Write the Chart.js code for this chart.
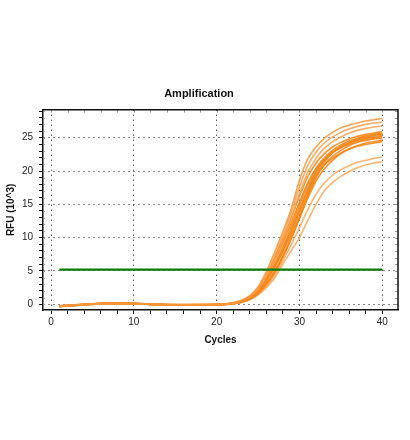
<!DOCTYPE html>
<html>
<head>
<meta charset="utf-8">
<script src="https://cdn.jsdelivr.net/npm/chart.js@4"></script>
<style>
  html, body { margin: 0; padding: 0; background: #fff; }
  #wrap { width: 410px; height: 440px; }
</style>
</head>
<body>
<div id="wrap"><canvas id="ampChart"></canvas></div>
<script>
const cycles = [1, 4, 7, 10, 13, 16, 19, 21, 22, 23, 24, 25, 26, 27, 28, 29, 30, 31, 32, 33, 34, 35, 36, 37, 38, 39, 40];

// RFU (10^3) per well
const wellA = [-0.30, -0.05, 0.15, 0.10, -0.05, -0.10, -0.05, 0.05, 0.25, 0.6, 1.3, 2.6, 4.9, 7.8, 10.9, 14.3, 18.6, 21.8, 23.6, 24.9, 25.8, 26.5, 26.9, 27.2, 27.5, 27.7, 27.9];
const wellB = [-0.25, 0.00, 0.12, 0.08, -0.08, -0.12, -0.08, 0.05, 0.2, 0.55, 1.2, 2.4, 4.5, 7.2, 10.3, 13.7, 17.6, 20.8, 22.8, 24.2, 25.1, 25.8, 26.3, 26.7, 27.0, 27.2, 27.3];
const wellC = [-0.35, -0.08, 0.10, 0.12, -0.02, -0.08, -0.06, 0.00, 0.2, 0.5, 1.1, 2.2, 4.1, 6.6, 9.6, 12.9, 16.6, 19.8, 21.9, 23.4, 24.4, 25.1, 25.7, 26.1, 26.4, 26.6, 26.8];
const wellD = [-0.28, -0.02, 0.18, 0.14, 0.00, -0.06, -0.04, 0.04, 0.2, 0.5, 1.1, 2.3, 4.3, 6.9, 9.8, 12.9, 16.2, 19.1, 21.2, 22.6, 23.6, 24.3, 24.8, 25.2, 25.5, 25.7, 25.9];
const wellE = [-0.32, -0.06, 0.14, 0.10, -0.04, -0.10, -0.08, 0.00, 0.15, 0.45, 1.0, 2.0, 3.7, 5.9, 8.6, 11.6, 14.9, 18.0, 20.4, 22.0, 23.1, 23.9, 24.5, 24.9, 25.3, 25.5, 25.7];
const wellF = [-0.26, -0.04, 0.16, 0.12, -0.06, -0.12, -0.10, -0.02, 0.15, 0.4, 0.9, 1.9, 3.5, 5.6, 8.1, 11.0, 14.2, 17.4, 19.9, 21.6, 22.8, 23.6, 24.2, 24.7, 25.0, 25.3, 25.5];
const wellG = [-0.34, -0.10, 0.08, 0.10, -0.03, -0.09, -0.07, 0.02, 0.15, 0.45, 1.0, 2.0, 3.6, 5.6, 7.9, 10.5, 13.7, 17.0, 19.8, 21.6, 22.8, 23.6, 24.2, 24.6, 24.9, 25.1, 25.3];
const wellH = [-0.30, -0.03, 0.12, 0.06, -0.07, -0.11, -0.09, -0.02, 0.1, 0.35, 0.8, 1.7, 3.1, 5.0, 7.3, 10.0, 13.0, 16.2, 19.0, 20.9, 22.2, 23.1, 23.8, 24.3, 24.7, 24.9, 25.1];
const wellI = [-0.22, 0.02, 0.20, 0.15, 0.02, -0.05, -0.03, 0.05, 0.2, 0.5, 1.1, 2.2, 4.0, 6.4, 9.2, 12.2, 15.3, 18.2, 20.3, 21.8, 22.8, 23.5, 24.0, 24.4, 24.6, 24.8, 24.9];
const wellJ = [-0.36, -0.09, 0.10, 0.08, -0.06, -0.13, -0.10, -0.03, 0.1, 0.3, 0.75, 1.6, 3.0, 4.9, 7.2, 9.9, 12.9, 15.9, 18.5, 20.3, 21.6, 22.6, 23.3, 23.8, 24.2, 24.4, 24.6];
const wellK = [-0.29, -0.05, 0.13, 0.11, -0.04, -0.08, -0.06, 0.01, 0.15, 0.4, 0.95, 1.9, 3.5, 5.6, 8.2, 11.1, 14.1, 17.0, 19.3, 20.9, 21.9, 22.7, 23.3, 23.7, 24.0, 24.2, 24.4];
const wellL = [-0.31, -0.07, 0.11, 0.09, -0.05, -0.10, -0.08, -0.01, 0.1, 0.3, 0.7, 1.5, 2.7, 4.3, 6.5, 8.9, 11.5, 14.2, 16.5, 18.2, 19.4, 20.2, 20.8, 21.3, 21.6, 21.9, 22.1];
const wellM = [-0.27, -0.04, 0.14, 0.12, -0.03, -0.09, -0.07, 0.00, 0.1, 0.3, 0.7, 1.4, 2.5, 3.9, 6.0, 8.0, 10.0, 12.6, 15.0, 17.0, 18.3, 19.2, 19.9, 20.5, 20.9, 21.2, 21.4];
const wellN = [-0.33, -0.06, 0.12, 0.10, -0.05, -0.11, -0.08, -0.01, 0.1, 0.3, 0.7, 1.5, 2.8, 4.6, 7.0, 9.8, 13.0, 16.4, 19.3, 21.3, 22.7, 23.6, 24.3, 24.8, 25.1, 25.4, 25.6];

// threshold line
const thresholdCycles = [1, 40];
const thresholdRFU = [5.2, 5.2];

const wells = [wellA, wellB, wellC, wellD, wellE, wellF, wellG, wellH, wellI, wellJ, wellK, wellL, wellM, wellN];
const wellColors = [
    'rgba(247,148,55,0.85)', 'rgba(248,158,75,0.85)', 'rgba(248,158,75,0.85)',
    'rgba(245,135,25,0.9)', 'rgba(245,135,25,0.9)', 'rgba(245,135,25,0.9)',
    'rgba(245,135,25,0.9)', 'rgba(245,135,25,0.9)', 'rgba(245,135,25,0.9)',
    'rgba(245,135,25,0.9)', 'rgba(245,135,25,0.9)', 'rgba(249,168,90,0.85)',
    'rgba(249,168,90,0.85)', 'rgba(245,135,25,0.9)'
];

const FONT = 'Liberation Sans, Arial, sans-serif';

const datasets = wells.map((well, i) => ({
    label: 'Well ' + (i + 1),
    data: cycles.map((c, j) => ({ x: c, y: well[j] })),
    borderColor: wellColors[i],
    borderWidth: 1.6,
    pointRadius: 0,
    cubicInterpolationMode: 'monotone',
    order: 2
}));

datasets.push({
    label: 'Threshold',
    data: thresholdCycles.map((c, j) => ({ x: c, y: thresholdRFU[j] })),
    borderColor: '#0a7a0a',
    borderWidth: 2.2,
    pointRadius: 0,
    order: 1
});

// box on top/right with small inward ticks
const plotFrame = {
    id: 'plotFrame',
    afterDraw(chart) {
        const { ctx, chartArea: a, scales } = chart;
        ctx.save();
        ctx.strokeStyle = '#999';
        ctx.lineWidth = 1;
        ctx.beginPath();
        scales.x.ticks.forEach(t => {
            const px = Math.round(scales.x.getPixelForValue(t.value)) + 0.5;
            ctx.moveTo(px, a.top);
            ctx.lineTo(px, a.top + 3);
        });
        scales.y.ticks.forEach(t => {
            const py = Math.round(scales.y.getPixelForValue(t.value)) + 0.5;
            ctx.moveTo(a.right, py);
            ctx.lineTo(a.right - 3, py);
            ctx.moveTo(a.left, py);
            ctx.lineTo(a.left + 2, py);
        });
        ctx.stroke();
        ctx.strokeStyle = '#111';
        ctx.lineWidth = 1.5;
        ctx.beginPath();
        ctx.moveTo(a.left, a.top);
        ctx.lineTo(a.right, a.top);
        ctx.lineTo(a.right, a.bottom);
        ctx.stroke();
        ctx.restore();
    }
};

new Chart(document.getElementById('ampChart').getContext('2d'), {
    type: 'line',
    data: { datasets: datasets },
    plugins: [plotFrame],
    options: {
        responsive: true,
        maintainAspectRatio: false,
        animation: false,
        layout: { padding: { left: 0, right: 12, top: 0, bottom: 0 } },
        plugins: {
            legend: { display: false },
            tooltip: { enabled: false },
            title: {
                display: true,
                text: 'Amplification',
                color: '#111',
                font: { family: FONT, size: 11, weight: 'bold' },
                padding: { top: 87, bottom: 9.5 }
            }
        },
        scales: {
            x: {
                type: 'linear',
                min: -0.97,
                max: 41.9,
                afterFit: (scale) => { scale.height = 130; },
                ticks: {
                    stepSize: 2,
                    includeBounds: false,
                    autoSkip: false,
                    maxRotation: 0,
                    padding: 2,
                    color: '#222',
                    font: { family: FONT, size: 10 },
                    callback: (v) => (v % 10 === 0 ? v : '')
                },
                grid: {
                    color: (c) => (c.tick && c.tick.value % 10 === 0 ? '#111' : 'transparent'),
                    lineWidth: 1,
                    tickColor: '#111',
                    tickLength: 4
                },
                border: { display: true, color: '#111', width: 1.5, dash: [1, 4] },
                title: {
                    display: true,
                    text: 'Cycles',
                    color: '#111',
                    font: { family: FONT, size: 10, weight: 'bold' },
                    padding: { top: 0, bottom: 94 }
                }
            },
            y: {
                type: 'linear',
                min: -0.86,
                max: 29.2,
                afterFit: (scale) => { scale.width = 43; },
                ticks: {
                    stepSize: 1,
                    includeBounds: false,
                    autoSkip: false,
                    padding: 6,
                    color: '#222',
                    font: { family: FONT, size: 10 },
                    callback: (v) => (v % 5 === 0 ? v : '')
                },
                grid: {
                    color: (c) => (c.tick && c.tick.value % 5 === 0 ? '#111' : 'transparent'),
                    lineWidth: 1,
                    tickColor: '#111',
                    tickLength: 4
                },
                border: { display: true, color: '#111', width: 1.5, dash: [1, 4] },
                title: {
                    display: true,
                    text: 'RFU (10^3)',
                    color: '#111',
                    font: { family: FONT, size: 10, weight: 'bold' },
                    padding: { top: 5.5, bottom: 0 }
                }
            }
        }
    }
});
</script>
</body>
</html>
